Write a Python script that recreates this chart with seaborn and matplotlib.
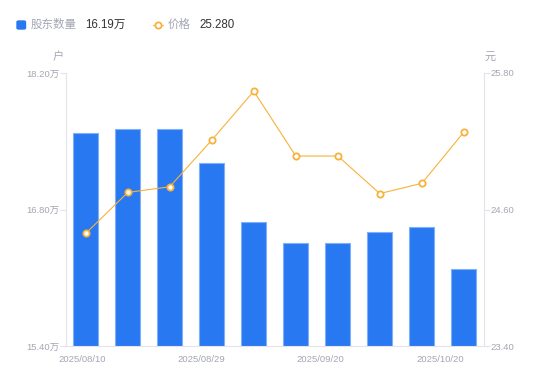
import numpy as np
import pandas as pd
import seaborn as sns
import matplotlib.pyplot as plt
from matplotlib.lines import Line2D
from matplotlib.patches import FancyBboxPatch

# data
dates = ["2025/08/10", "2025/08/15", "2025/08/20", "2025/08/29", "2025/09/05",
         "2025/09/10", "2025/09/20", "2025/09/30", "2025/10/10", "2025/10/20"]
holders = [17.58, 17.63, 17.63, 17.28, 16.675, 16.46, 16.46, 16.57, 16.62, 16.19]  # 万户
prices = [24.39, 24.75, 24.80, 25.21, 25.64, 25.07, 25.07, 24.74, 24.83, 25.28]
left_ticks = [15.40, 16.80, 18.20]
right_ticks = [23.40, 24.60, 25.80]
shown_dates = ["2025/08/10", "2025/08/29", "2025/09/20", "2025/10/20"]

BLUE = "#2878f2"
BLUE_EDGE = "#7fb0f8"
ORANGE = "#f7b23b"
GREY = "#a3a6b4"
AXIS = "#e3e3e8"
DARK = "#333333"

sns.set_style("white")
plt.rcParams["font.family"] = ["Liberation Sans", "Noto Sans CJK SC", "DejaVu Sans"]

df = pd.DataFrame({"date": dates, "holders": holders, "price": prices,
                   "pos": np.arange(len(dates))})

fig = plt.figure(figsize=(5.5, 3.81), dpi=100)
ax = fig.add_axes([66 / 550, 1 - 346 / 381, (484 - 66) / 550, (346 - 73) / 381])

sns.barplot(data=df, x="date", y="holders", ax=ax, color=BLUE, width=0.6,
            saturation=1, edgecolor=BLUE_EDGE, linewidth=0.8)
ax.set_ylim(left_ticks[0], left_ticks[-1])
ax.set_xlim(-0.47, 9.48)

ax2 = ax.twinx()
sns.lineplot(data=df, x="pos", y="price", ax=ax2, color=ORANGE, linewidth=0.8,
             marker="o", markersize=4.5, markerfacecolor="white",
             markeredgecolor=ORANGE, markeredgewidth=1.3, sort=False)
ax2.set_ylim(right_ticks[0], right_ticks[-1])
ax2.set_xlim(-0.47, 9.48)

# axes styling
for a in (ax, ax2):
    a.set_xlabel("")
    a.set_ylabel("")
    for s in a.spines.values():
        s.set_visible(False)
    a.grid(False)

ax.spines["left"].set_visible(True)
ax.spines["left"].set_color(AXIS)
ax.spines["bottom"].set_visible(True)
ax.spines["bottom"].set_color(AXIS)
ax2.spines["right"].set_visible(True)
ax2.spines["right"].set_color(AXIS)

ax.set_yticks(left_ticks)
ax.set_yticklabels([f"{v:.2f}万" for v in left_ticks])
ax2.set_yticks(right_ticks)
ax2.set_yticklabels([f"{v:.2f}" for v in right_ticks])

ax.set_xticks([-0.09, 2.75, 5.58, 8.44])
ax.set_xticklabels(shown_dates)

ax.tick_params(axis="y", left=True, length=4, width=0.8, color=AXIS,
               labelsize=6.8, labelcolor=GREY, pad=1)
ax2.tick_params(axis="y", right=True, length=4, width=0.8, color=AXIS,
                labelsize=6.8, labelcolor=GREY, pad=1)
ax.tick_params(axis="x", bottom=False, labelsize=6.8, labelcolor=GREY, pad=3)

# unit labels
fig.text(58 / 550, 1 - 57 / 381, "户", color=GREY, fontsize=8, ha="center", va="center")
fig.text(490 / 550, 1 - 57 / 381, "元", color=GREY, fontsize=8, ha="center", va="center")

# legend drawn by hand (name grey, latest value dark)
ly = 1 - 25 / 381
fig.patches.append(FancyBboxPatch((17 / 550, 1 - 29 / 381), 8.5 / 550, 8 / 381,
                                  boxstyle="round,pad=0,rounding_size=0.003",
                                  transform=fig.transFigure, color=BLUE))
fig.text(31 / 550, ly, "股东数量", color=GREY, fontsize=8.3, va="center")
fig.text(85 / 550, ly, f"{holders[-1]:.2f}万", color=DARK, fontsize=8.3, va="center")
fig.lines.append(Line2D([153 / 550, 163 / 550], [ly, ly], transform=fig.transFigure,
                        color=ORANGE, linewidth=0.8))
fig.lines.append(Line2D([158 / 550], [ly], transform=fig.transFigure, color=ORANGE,
                        marker="o", markersize=4.5, markerfacecolor="white",
                        markeredgewidth=1.3))
fig.text(168 / 550, ly, "价格", color=GREY, fontsize=8.3, va="center")
fig.text(199 / 550, ly, f"{prices[-1]:.3f}", color=DARK, fontsize=8.3, va="center")

fig.savefig("out.png", dpi=100)
